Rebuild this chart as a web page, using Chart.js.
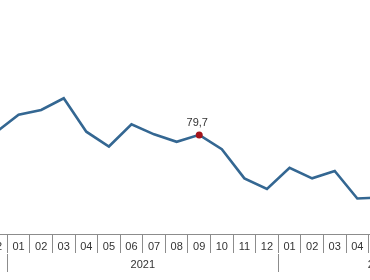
<!DOCTYPE html>
<html><head><meta charset="utf-8">
<script src="https://cdn.jsdelivr.net/npm/chart.js@4"></script>
<style>
html,body{margin:0;padding:0;background:#fff;overflow:hidden;width:370px;height:280px}
#c{position:absolute;left:-20px;top:0}
</style></head>
<body><canvas id="c" width="510" height="280"></canvas>
<script>
// Month categories per year (only the visible part of 2020; 2022 runs to 09)
const months2020 = ['12'];
const months2021 = ['01','02','03','04','05','06','07','08','09','10','11','12'];
const months2022 = ['01','02','03','04','05','06','07','08','09'];
// Series values (unseen months left empty)
const values2020 = [80.2];
const values2021 = [83.5, 84.4, 86.6, 80.3, 77.5, 81.7, 79.8, 78.4, 79.7, 77.0, 71.5, 69.5];
const values2022 = [73.5, 71.5, 72.9, 67.7, 67.9, null, null, null, null];
// Year tick labels (2020 label lies outside the picture)
const yearTickLabels = ['', '2021', '2022'];
// Highlighted point
const highlightMonth = '09';
const highlightText = '79,7';

const monthGroups = [months2020, months2021, months2022];
const categories = monthGroups.flat();
const values = [values2020, values2021, values2022].flat();
const hiIndex = months2020.length + months2021.indexOf(highlightMonth);

let start = 0;
const yearBounds = [];
const yearCenters = [];
monthGroups.forEach((g, k) => {
  yearCenters.push({ value: start + (g.length - 1) / 2, label: yearTickLabels[k] });
  start += g.length;
  if (k < monthGroups.length - 1) yearBounds.push(start - 0.5);
});

const AXIS = '#8c8c8c';
const TXT = '#333333';
const FONT = { family: 'Liberation Sans, Arial, sans-serif', size: 11 };

const labelPlugin = {
  id: 'hiLabel',
  afterDatasetsDraw(chart) {
    const el = chart.getDatasetMeta(0).data[hiIndex];
    if (!el) return;
    const ctx = chart.ctx;
    ctx.save();
    ctx.font = '11px "Liberation Sans", Arial, sans-serif';
    ctx.fillStyle = TXT;
    ctx.textAlign = 'center';
    ctx.textBaseline = 'middle';
    ctx.fillText(highlightText, el.x - 2, el.y - 12);
    ctx.restore();
  }
};

new Chart(document.getElementById('c'), {
  type: 'line',
  data: {
    labels: categories,
    datasets: [{
      data: values,
      borderColor: '#346792',
      borderWidth: 2.6,
      tension: 0,
      spanGaps: false,
      pointRadius: ctx => ctx.dataIndex === hiIndex ? 3.5 : 0,
      pointHoverRadius: 0,
      pointBackgroundColor: '#a3141c',
      pointBorderWidth: 0
    }]
  },
  options: {
    responsive: false,
    animation: false,
    events: [],
    layout: { padding: { top: 10, left: 4.7, right: 8.5, bottom: 8 } },
    plugins: { legend: { display: false }, tooltip: { enabled: false } },
    scales: {
      y: { display: false, min: 61, max: 103.26 },
      x: {
        type: 'category',
        position: 'bottom',
        weight: 0,
        offset: true,
        border: { color: AXIS, width: 1 },
        grid: { offset: true, drawOnChartArea: false, tickLength: 19, color: AXIS },
        ticks: { padding: -13, color: TXT, font: FONT, autoSkip: false, maxRotation: 0 },
        afterFit: s => { s.height = 19.5; }
      },
      x2: {
        type: 'linear',
        position: 'bottom',
        weight: 1,
        min: -0.5,
        max: categories.length - 0.5,
        border: { display: false },
        grid: {
          drawOnChartArea: false,
          tickLength: 18.5,
          color: ctx => (ctx.tick && yearBounds.includes(ctx.tick.value)) ? AXIS : 'rgba(0,0,0,0)'
        },
        afterBuildTicks: s => {
          s.ticks = yearBounds.map(v => ({ value: v }))
            .concat(yearCenters.map(c => ({ value: c.value })))
            .sort((a, b) => a.value - b.value);
        },
        ticks: {
          padding: -13.6, color: TXT, font: FONT, autoSkip: false, maxRotation: 0,
          callback: v => { const c = yearCenters.find(c => c.value === v); return c ? c.label : ''; }
        },
        afterFit: s => { s.height = 18.5; }
      }
    }
  },
  plugins: [labelPlugin]
});
</script>
</body></html>
